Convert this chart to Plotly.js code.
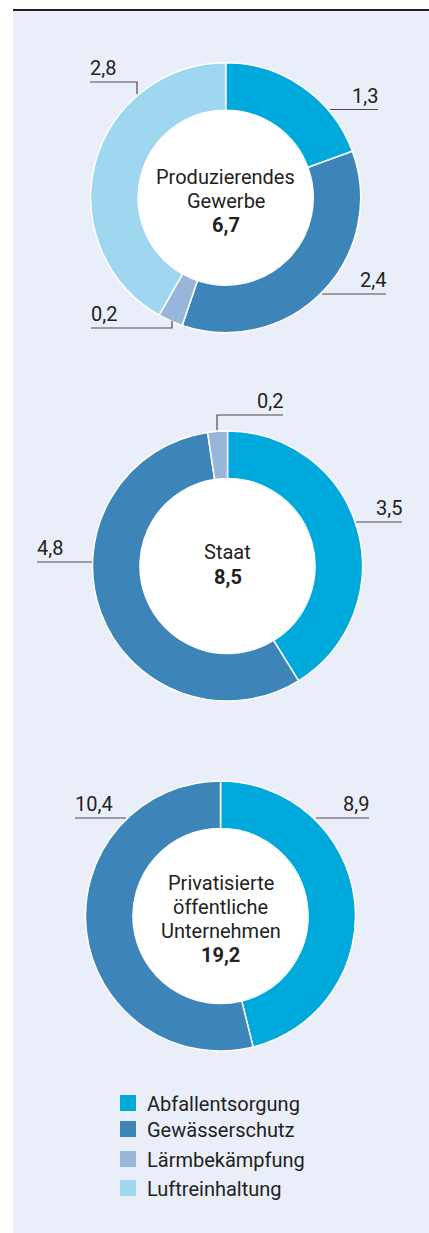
<!DOCTYPE html>
<html>
<head>
<meta charset="utf-8">
<script src="https://cdn.plot.ly/plotly-3.0.1.min.js"></script>
<style>html,body{margin:0;padding:0;background:#fff;}#chart{width:429px;height:1233px;}</style>
</head>
<body>
<div id="chart"></div>
<script>
// ---- data ----
const categories = ['Abfallentsorgung', 'Gewässerschutz', 'Lärmbekämpfung', 'Luftreinhaltung'];
const sectorNames = ['Produzierendes<br>Gewerbe', 'Staat', 'Privatisierte<br>öffentliche<br>Unternehmen'];
const sectorTotals = [6.7, 8.5, 19.2];
const valuesProduzierendesGewerbe = [1.3, 2.4, 0.2, 2.8];
const valuesStaat = [3.5, 4.8, 0.2, 0];
const valuesPrivatisierteUnternehmen = [8.9, 10.4, 0, 0];
const sectorValues = [valuesProduzierendesGewerbe, valuesStaat, valuesPrivatisierteUnternehmen];

// ---- styles / layout geometry ----
const colors = ['#00a9db', '#3d84b8', '#98b6d9', '#a0d7f0'];
const W = 429, H = 1233;
const R = 135, RIN = 87.5;
const centers = [[225.7, 197.7], [227.5, 566], [220.5, 916]];
const centerTextOffset = [3.3, -1.5, 3];
const centerLineGap = [24, 26, 24.2];
const FONT = 'Roboto, "Open Sans", sans-serif';
const FS = 20;
const TXT = '#222222';
// label leader lines (pixel positions) per donut, per category index
const labelGeom = [
  {0: {pts: [[330, 109.5], [378, 109.5]], side: 'right'},
   1: {pts: [[322, 294], [386, 294]], side: 'right'},
   2: {pts: [[172, 321], [172, 328], [91, 328]], side: 'left'},
   3: {pts: [[137, 94], [137, 82], [90, 82]], side: 'left'}},
  {0: {pts: [[356, 522], [402, 522]], side: 'right'},
   1: {pts: [[92, 562], [37, 562]], side: 'left'},
   2: {pts: [[217, 430], [217, 415], [283, 415]], side: 'right'}},
  {0: {pts: [[316, 818], [369, 818]], side: 'right'},
   1: {pts: [[126, 818], [75, 818]], side: 'left'}}
];
const legendTops = [1095, 1121, 1151, 1180];

const px = x => x / W;
const py = y => 1 - y / H;
const fmt = v => v.toFixed(1).replace('.', ',');

const traces = [];
const shapes = [];
const annotations = [];

// panel + top rule
shapes.push({type: 'rect', xref: 'paper', yref: 'paper', layer: 'below',
  x0: px(13), x1: px(429), y0: py(1233), y1: py(10), fillcolor: '#e9eef8', line: {width: 0}});
shapes.push({type: 'line', xref: 'paper', yref: 'paper', layer: 'above',
  x0: px(13), x1: px(429), y0: py(10), y1: py(10), line: {color: '#231f20', width: 2}});

sectorValues.forEach((vals, i) => {
  const [cx, cy] = centers[i];
  const labels = [], values = [], cols = [];
  vals.forEach((v, k) => { if (v > 0) { labels.push(categories[k]); values.push(v); cols.push(colors[k]); } });
  traces.push({
    type: 'pie', labels: labels, values: values, sort: false, direction: 'clockwise', rotation: 0,
    hole: RIN / R, textinfo: 'none', hoverinfo: 'skip', showlegend: false,
    marker: {colors: cols, line: {color: '#ffffff', width: 1.5}},
    domain: {x: [px(cx - R), px(cx + R)], y: [py(cy + R), py(cy - R)]}
  });
  // white hole
  shapes.push({type: 'circle', xref: 'paper', yref: 'paper', layer: 'below',
    x0: px(cx - RIN), x1: px(cx + RIN), y0: py(cy + RIN), y1: py(cy - RIN),
    fillcolor: '#ffffff', line: {width: 0}});
  // center text, one annotation per line
  const lines = sectorNames[i].split('<br>').concat(['<b>' + fmt(sectorTotals[i]) + '</b>']);
  const n = lines.length;
  lines.forEach((t, j) => {
    const yc = cy + centerTextOffset[i] + (j - (n - 1) / 2) * centerLineGap[i];
    annotations.push({xref: 'paper', yref: 'paper', x: px(cx), y: py(yc), xanchor: 'center', yanchor: 'middle',
      showarrow: false, align: 'center', text: t, font: {family: FONT, size: FS, color: TXT}});
  });
  // value labels
  vals.forEach((v, k) => {
    const g = labelGeom[i][k];
    if (!g || !(v > 0)) return;
    const path = g.pts.map((p, j) => (j ? 'L' : 'M') + px(p[0]) + ',' + py(p[1])).join(' ');
    shapes.push({type: 'path', xref: 'paper', yref: 'paper', layer: 'above', path: path,
      line: {color: '#4a4a4a', width: 1.2}});
    const end = g.pts[g.pts.length - 1];
    annotations.push({xref: 'paper', yref: 'paper', x: px(end[0]), y: py(end[1] - 1),
      xanchor: g.side === 'right' ? 'right' : 'left', yanchor: 'bottom', showarrow: false,
      text: fmt(v), font: {family: FONT, size: FS, color: TXT}, borderpad: 0, xshift: g.side === 'right' ? 1 : -1});
  });
});

// legend
categories.forEach((c, k) => {
  const t = legendTops[k];
  shapes.push({type: 'rect', xref: 'paper', yref: 'paper', layer: 'above',
    x0: px(120), x1: px(136), y0: py(t + 16), y1: py(t), fillcolor: colors[k], line: {width: 0}});
  annotations.push({xref: 'paper', yref: 'paper', x: px(145), y: py(t + 9), xanchor: 'left', yanchor: 'middle',
    showarrow: false, text: c, font: {family: FONT, size: FS, color: TXT}});
});

Plotly.newPlot('chart', traces, {
  width: W, height: H, margin: {l: 0, r: 0, t: 0, b: 0},
  paper_bgcolor: '#ffffff', plot_bgcolor: '#ffffff',
  showlegend: false, shapes: shapes, annotations: annotations
}, {staticPlot: true, displayModeBar: false});
</script>
</body>
</html>
